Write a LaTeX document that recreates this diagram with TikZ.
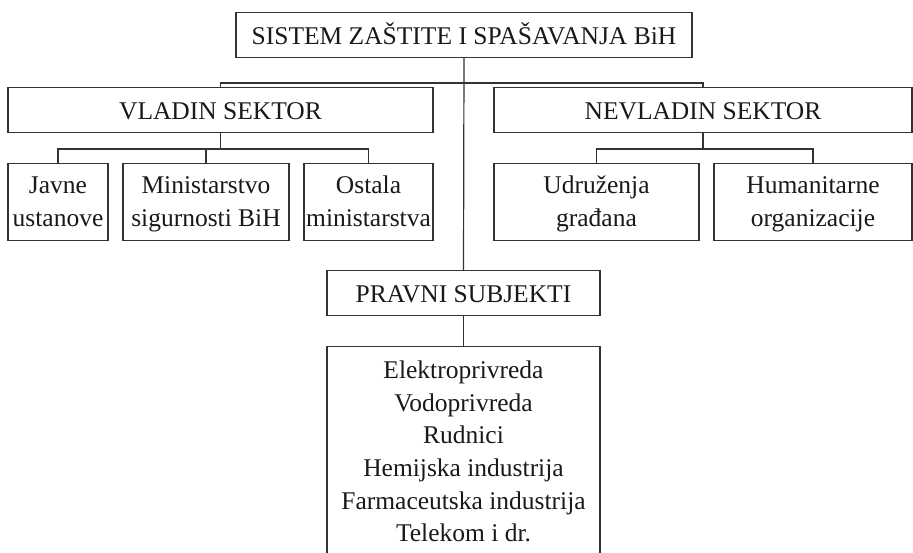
\documentclass[tikz,border=0pt]{standalone}
\usepackage{fontspec}
\setmainfont{Liberation Serif}
\newcommand\oneline{\rule[-13pt]{0pt}{45pt}}
\newcommand\firstln{\rule{0pt}{30pt}}
\newcommand\lastln{\rule[-14pt]{0pt}{14pt}}
\begin{document}
\begin{tikzpicture}[x=1pt,y=-1pt,
  lc/.style={draw=black!80,line width=1.2pt},
  box/.style={lc,rectangle,inner sep=0pt,align=center,anchor=north,
    font=\fontsize{25.5}{32.6}\selectfont,text=black!90},
  conn/.style={lc}]
\useasboundingbox (0,0) rectangle (913,553);
\clip (0,0) rectangle (913,553);
\node[box,minimum width=456] (top) at (464,12) {\oneline SISTEM ZAŠTITE I SPAŠAVANJA BiH};
\node[box,minimum width=425] (vl) at (220.5,87) {\oneline VLADIN SEKTOR};
\node[box,minimum width=418] (nv) at (703,87) {\oneline NEVLADIN SEKTOR};
\node[box,minimum width=100] (javne) at (58,163) {\firstln Javne\\ustanove\lastln};
\node[box,minimum width=166] (min) at (206,163) {\firstln Ministarstvo\\sigurnosti BiH\lastln};
\node[box,minimum width=129] (ost) at (368.5,163) {\firstln Ostala\\ministarstva\lastln};
\node[box,minimum width=205] (udr) at (596.5,163) {\firstln Udruženja\\građana\lastln};
\node[box,minimum width=198] (hum) at (813,163) {\firstln Humanitarne\\organizacije\lastln};
\node[box,minimum width=273] (pr) at (463.5,270) {\oneline PRAVNI SUBJEKTI};
\node[box,minimum width=273] (list) at (463.5,346)
  {\rule{0pt}{32pt}Elektroprivreda\\Vodoprivreda\\Rudnici\\Hemijska industrija\\Farmaceutska industrija\\Telekom i dr.\rule[-30pt]{0pt}{30pt}};
\coordinate (b1) at (464,83);
\coordinate (b2) at (220.5,149);
\coordinate (b3) at (703,149);
\draw[conn] (top.south) -- (pr.north);
\draw[conn] (vl.north) |- (b1) -| (nv.north);
\draw[conn] (pr.south) -- (list.north);
\draw[conn] (vl.south) -- (b2);
\draw[conn] (javne.north) |- (b2) -| (ost.north);
\draw[conn] (min.north) -- (min.north |- b2);
\draw[conn] (nv.south) -- (b3);
\draw[conn] (udr.north) |- (b3) -| (hum.north);
\end{tikzpicture}
\end{document}
